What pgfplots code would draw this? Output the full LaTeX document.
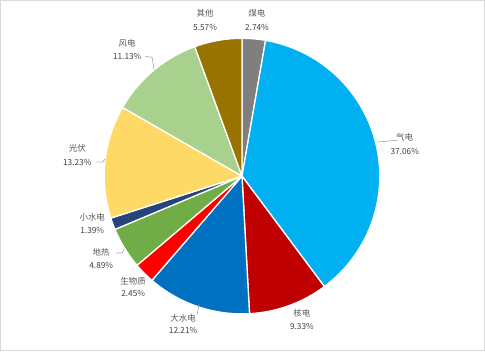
\documentclass[border=0pt]{standalone}
\usepackage{pgfplots}
\pgfplotsset{compat=1.18}
\usepackage{pgfplotstable}
\usepackage{fontspec}
\setmainfont{Noto Sans CJK SC}
\definecolor{c0}{HTML}{7F7F7F}
\definecolor{c1}{HTML}{00B0F0}
\definecolor{c2}{HTML}{C00000}
\definecolor{c3}{HTML}{0070C0}
\definecolor{c4}{HTML}{FF0000}
\definecolor{c5}{HTML}{70AD47}
\definecolor{c6}{HTML}{264478}
\definecolor{c7}{HTML}{FFD966}
\definecolor{c8}{HTML}{A9D18E}
\definecolor{c9}{HTML}{997300}
\definecolor{namec}{HTML}{595959}
\definecolor{pctc}{HTML}{404040}
\definecolor{leadc}{HTML}{A6A6A6}
\pgfplotstableread{
name val
煤电 2.74
气电 37.06
核电 9.33
大水电 12.21
生物质 2.45
地热 4.89
小水电 1.39
光伏 13.23
风电 11.13
其他 5.57
}\piedata
\newcommand\lbl[5]{% x, y(name), name, y(pct), pct
  \node[font=\fontsize{8.5}{9}\selectfont, text=namec, inner sep=0pt] at (axis cs:{#1-242},{176-#2}) {#3};
  \node[font=\fontsize{8.3}{9}\selectfont, text=pctc, inner sep=0pt] at (axis cs:{#1-242},{176-#4}) {#5};
}
\begin{document}
\begin{tikzpicture}
\begin{axis}[
  width=485pt, height=351pt, scale only axis,
  xmin=-242, xmax=243, ymin=-175, ymax=176,
  hide axis, clip=false,
]
\def\cum{0}
\pgfplotsforeachungrouped \i in {0,...,9}{%
  \pgfplotstablegetelem{\i}{val}\of\piedata
  \let\v\pgfplotsretval
  \pgfmathsetmacro\a{\cum*3.6}%
  \pgfmathsetmacro\b{(\cum+\v)*3.6}%
  \pgfmathsetmacro\cum{\cum+\v}%
  \edef\cmd{\noexpand\addplot[fill=c\i, draw=white, line width=1.3pt, line join=round, domain=\a:\b, samples=80, variable=\noexpand\t] ({138*sin(\noexpand\t)},{138*cos(\noexpand\t)}) -- (axis cs:0,0) -- cycle;}%
  \cmd
}
% frame
\draw[color={rgb,255:red,217;green,217;blue,217}, line width=0.8pt] (rel axis cs:0,0) ++(0.5pt,0.5pt) rectangle (rel axis cs:1,1);
% leader lines
\draw[leadc, line width=0.6pt] (axis cs:{377-242},{176-142}) -- (axis cs:{398-242},{176-140});
\draw[leadc, line width=0.6pt] (axis cs:{199-242},{176-304}) -- (axis cs:{197-242},{176-315});
\draw[leadc, line width=0.6pt] (axis cs:{116-242},{176-253}) -- (axis cs:{122-242},{176-253}) -- (axis cs:{124-242},{176-249});
\draw[leadc, line width=0.6pt] (axis cs:{96-242},{176-162}) -- (axis cs:{102-242},{176-162}) -- (axis cs:{105-242},{176-159});
\draw[leadc, line width=0.6pt] (axis cs:{145-242},{176-56}) -- (axis cs:{152-242},{176-57}) -- (axis cs:{154-242},{176-70});
% labels
\lbl{205}{13}{其他}{27}{5.57\%}
\lbl{257}{13}{煤电}{27}{2.74\%}
\lbl{405}{137}{气电}{151}{37.06\%}
\lbl{302}{313}{核电}{327}{9.33\%}
\lbl{183}{318}{大水电}{331}{12.21\%}
\lbl{133}{281}{生物质}{294}{2.45\%}
\lbl{101}{252}{地热}{266}{4.89\%}
\lbl{92}{217}{小水电}{230}{1.39\%}
\lbl{77}{148}{光伏}{162}{13.23\%}
\lbl{127}{43}{风电}{56}{11.13\%}
\end{axis}
\end{tikzpicture}
\end{document}
